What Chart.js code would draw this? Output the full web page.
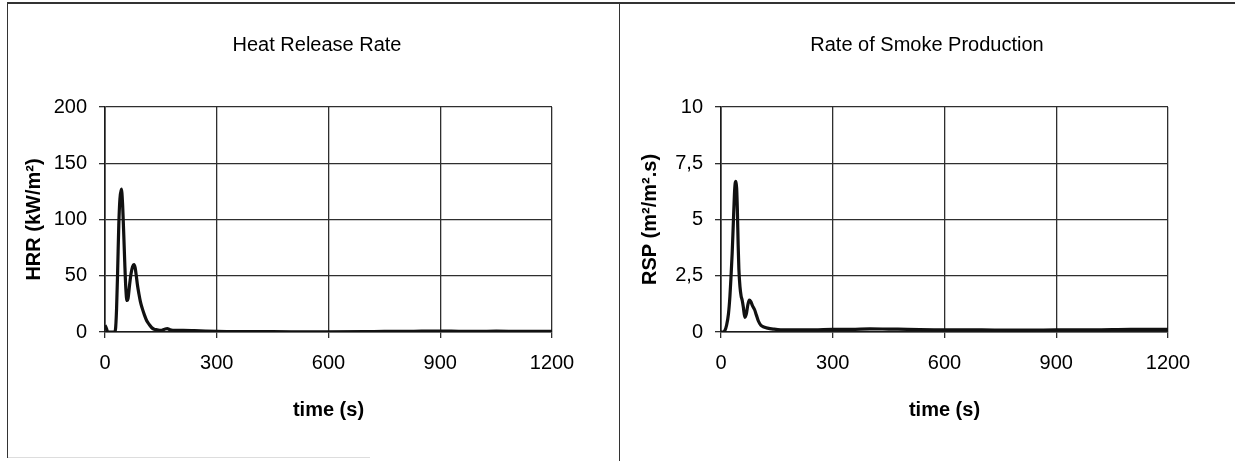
<!DOCTYPE html>
<html>
<head>
<meta charset="utf-8">
<script src="https://cdn.jsdelivr.net/npm/chart.js@4"></script>
<style>
  html, body { margin: 0; padding: 0; background: #fff; }
  body { width: 1235px; height: 461px; position: relative; overflow: hidden; }
  canvas { position: absolute; }
  .ln { position: absolute; background: #333; }
</style>
</head>
<body>
<div class="ln" style="left:7px; top:2px; width:1228px; height:2px;"></div>
<div class="ln" style="left:7px; top:2px; width:1px; height:456px;"></div>
<div class="ln" style="left:619px; top:2px; width:1px; height:459px;"></div>
<div class="ln" style="left:8px; top:457px; width:362px; height:1px; background:#ddd;"></div>
<canvas id="c1" width="618" height="455" style="left:8px; top:3px;"></canvas>
<canvas id="c2" width="606" height="455" style="left:624px; top:3px;"></canvas>
<script>
// ---- data ----
const hrrTime = [0, 3, 6, 10, 15, 20, 25, 28, 31, 34, 37, 40, 44, 47, 50, 53, 56, 59, 62, 66, 70, 74, 78, 81, 84, 87, 91, 95, 100, 106, 112, 118, 125, 132, 140, 150, 160, 167, 175, 190, 210, 240, 270, 300, 350, 400, 500, 600, 700, 750, 800, 850, 900, 950, 1000, 1050, 1100, 1150, 1200];
const hrrValues = [6, 4, 1, 0, 0, 0, 0, 2, 20, 55, 95, 118, 127, 115, 90, 62, 38, 28, 30, 42, 52, 58, 60, 57, 50, 42, 34, 27, 21, 15, 10, 7, 4, 2.5, 2, 1.5, 2.5, 3, 2, 1.5, 1.5, 1.2, 0.8, 0.5, 0.3, 0.3, 0.2, 0.2, 0.3, 0.6, 0.5, 0.8, 0.9, 0.6, 0.5, 0.7, 0.6, 0.5, 0.5];

const rspTime = [0, 5, 10, 15, 20, 24, 27, 30, 33, 36, 38, 40, 42, 44, 46, 48, 51, 54, 57, 60, 64, 68, 72, 76, 80, 85, 90, 95, 100, 107, 115, 125, 140, 160, 200, 250, 300, 350, 400, 450, 500, 600, 700, 800, 900, 1000, 1100, 1200];
const rspValues = [0, 0, 0.05, 0.3, 0.8, 1.6, 2.5, 3.5, 4.8, 6.1, 6.6, 6.7, 6.4, 5.4, 3.9, 2.8, 2.0, 1.6, 1.4, 1.1, 0.65, 0.8, 1.2, 1.42, 1.35, 1.15, 1.0, 0.75, 0.5, 0.3, 0.22, 0.17, 0.13, 0.1, 0.1, 0.1, 0.12, 0.12, 0.14, 0.13, 0.12, 0.1, 0.1, 0.08, 0.1, 0.1, 0.12, 0.12];

const xTickLabels = ['0', '300', '600', '900', '1200'];
const hrrTickLabels = ['0', '50', '100', '150', '200'];
const rspTickLabels = ['0', '2,5', '5', '7,5', '10'];

const FONT = '"Liberation Sans", Arial, Helvetica, sans-serif';
const GRID = '#2e2e2e';

function makeChart(id, title, yTitle, times, values, yMax, yStep, yLabels, rightSpace) {
  const pts = times.map((t, i) => ({ x: t, y: values[i] }));
  return new Chart(document.getElementById(id), {
    type: 'line',
    data: {
      datasets: [{
        data: pts,
        borderColor: '#111',
        borderWidth: 3.2,
        pointRadius: 0,
        cubicInterpolationMode: 'monotone',
        fill: false
      }]
    },
    options: {
      responsive: false,
      animation: false,
      devicePixelRatio: 1,
      layout: { padding: 0 },
      plugins: {
        legend: { display: false },
        tooltip: { enabled: false },
        title: {
          display: true,
          text: title,
          color: '#000',
          font: { family: FONT, size: 20, weight: 'normal' },
          padding: { top: 30, bottom: 50 }
        }
      },
      scales: {
        x: {
          type: 'linear',
          min: 0, max: 1200,
          afterFit: s => { s.height = 126; },
          afterBuildTicks: s => { s.ticks = xTickLabels.map(v => ({ value: Number(v) })); },
          ticks: {
            color: '#000',
            font: { family: FONT, size: 20 },
            padding: 13,
            maxRotation: 0,
            callback: (v, i) => xTickLabels[i]
          },
          grid: { color: GRID, lineWidth: 1.3, tickLength: 6, drawTicks: true },
          border: { display: true, color: '#1a1a1a', width: 1.6 },
          title: {
            display: true,
            text: 'time (s)',
            color: '#000',
            font: { family: FONT, size: 20, weight: 'bold' },
            padding: { top: 0, bottom: 36 }
          }
        },
        y: {
          type: 'linear',
          min: 0, max: yMax,
          afterFit: s => { s.width = 97; },
          afterBuildTicks: s => { s.ticks = yLabels.map((v, i) => ({ value: i * yStep })); },
          ticks: {
            color: '#000',
            font: { family: FONT, size: 20 },
            padding: 12,
            callback: (v, i) => yLabels[i]
          },
          grid: { color: GRID, lineWidth: 1.3, tickLength: 6, drawTicks: true },
          border: { display: true, color: '#1a1a1a', width: 1.6 },
          title: {
            display: true,
            text: yTitle,
            color: '#000',
            font: { family: FONT, size: 20, weight: 'bold' },
            padding: { top: 14, bottom: 0 }
          }
        },
        spacer: {
          type: 'linear',
          position: 'right',
          display: true,
          afterFit: s => { s.width = rightSpace; },
          ticks: { display: false },
          grid: { display: false, drawTicks: false },
          border: { display: false }
        }
      }
    }
  });
}

makeChart('c1', 'Heat Release Rate', 'HRR (kW/m²)', hrrTime, hrrValues, 200, 50, hrrTickLabels, 74);
makeChart('c2', 'Rate of Smoke Production', 'RSP (m²/m².s)', rspTime, rspValues, 10, 2.5, rspTickLabels, 62);
</script>
</body>
</html>
